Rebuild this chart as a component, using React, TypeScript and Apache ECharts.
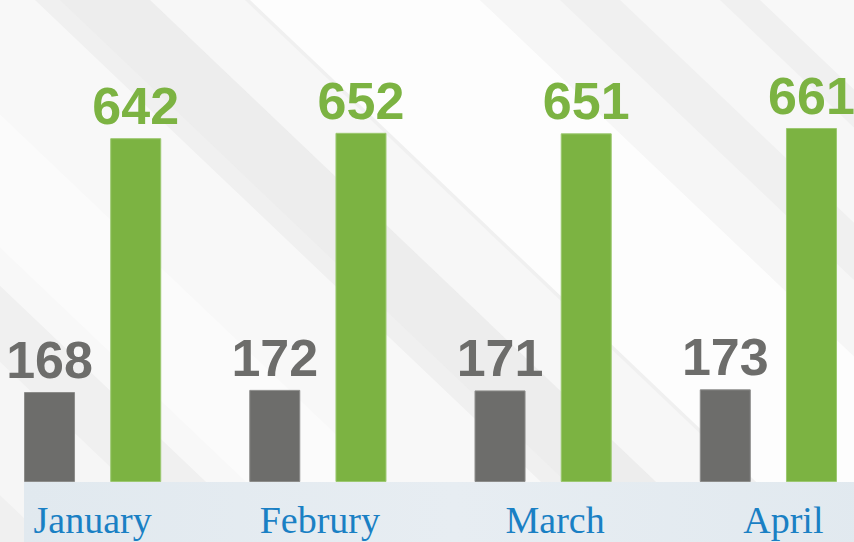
import React, { useEffect, useRef } from "react";
import * as echarts from "echarts";

const months = ["January", "Februry", "March", "April"];
const seriesA = [168, 172, 171, 173];
const seriesB = [642, 652, 651, 661];

const GRAY = "#6d6d6b";
const GREEN = "#7cb342";
const BLUE = "#1a80c4";

// chart canvas is shifted left so category centres fall where the reference has them
const OFF = 20;
const CW = 901;
const CH = 542;

function band(a: number, b: number, fill: string, opacity: number, slope = 1.05) {
  const d = CH * slope;
  return {
    type: "polygon",
    z: -10,
    silent: true,
    shape: {
      points: [
        [a + OFF, 0],
        [b + OFF, 0],
        [b + OFF + d, CH],
        [a + OFF + d, CH],
      ],
    },
    style: { fill, opacity },
  };
}

const serif = "Liberation Serif, Times New Roman, serif";

export default function App() {
  const ref = useRef<HTMLDivElement>(null);
  useEffect(() => {
    if (!ref.current) return;
    const chart = echarts.init(ref.current, undefined, { renderer: "svg" });
    const labelBase = {
      show: true,
      position: "top" as const,
      distance: 6,
      fontFamily: "Liberation Sans, Arial, sans-serif",
      fontWeight: "bold" as const,
      fontSize: 52,
    };
    chart.setOption({
      animation: false,
      backgroundColor: "#f0f0f0",
      graphic: [
        band(-300, 35, "#ffffff", 0.55),
        band(60, 150, "#e9e9e9", 0.45),
        band(150, 245, "#ffffff", 0.45),
        band(250, 480, "#ffffff", 0.85),
        band(-260, -120, "#ffffff", 0.4),
        band(-520, -380, "#ffffff", 0.4),
        band(480, 560, "#ffffff", 0.4),
        band(620, 720, "#ffffff", 0.45),
        band(760, 900, "#ffffff", 0.55),
        {
          type: "rect",
          z: -5,
          silent: true,
          shape: { x: 24 + OFF, y: 482, width: 860, height: 60 },
          style: {
            fill: new echarts.graphic.LinearGradient(0, 0, 1, 0, [
              { offset: 0, color: "#e1e9ef" },
              { offset: 0.5, color: "#e7edf2" },
              { offset: 1, color: "#e1e9ef" },
            ]),
          },
        },
      ],
      grid: { left: 0, right: 0, top: 0, bottom: 60, containLabel: false },
      xAxis: {
        type: "category",
        data: months,
        axisLine: { show: false },
        axisTick: { show: false },
        axisLabel: {
          interval: 0,
          hideOverlap: false,
          color: BLUE,
          fontFamily: serif,
          fontSize: 38,
          margin: 19,
          formatter: (v: string, i: number) => `{s${i}|${v}}`,
          rich: {
            s0: { color: BLUE, fontFamily: serif, fontSize: 38 },
            s1: { color: BLUE, fontFamily: serif, fontSize: 38, padding: [0, 0, 0, 4] },
            s2: { color: BLUE, fontFamily: serif, fontSize: 38, padding: [0, 0, 0, 24] },
            s3: { color: BLUE, fontFamily: serif, fontSize: 38, padding: [0, 0, 0, 30] },
          },
        },
      },
      yAxis: {
        type: "value",
        min: 0,
        max: 900,
        show: false,
        splitLine: { show: false },
      },
      series: [
        {
          type: "bar",
          data: seriesA,
          barWidth: 51,
          barGap: "69%",
          itemStyle: { color: GRAY, borderColor: "#8c8c8a", borderWidth: 1 },
          label: { ...labelBase, color: GRAY },
        },
        {
          type: "bar",
          data: seriesB,
          barWidth: 51,
          itemStyle: { color: GREEN, borderColor: "#9cc870", borderWidth: 1 },
          label: { ...labelBase, color: GREEN },
        },
      ],
    });
    return () => chart.dispose();
  }, []);
  return (
    <div
      ref={ref}
      style={{ position: "fixed", left: -OFF, top: 0, width: CW, height: CH }}
    />
  );
}
